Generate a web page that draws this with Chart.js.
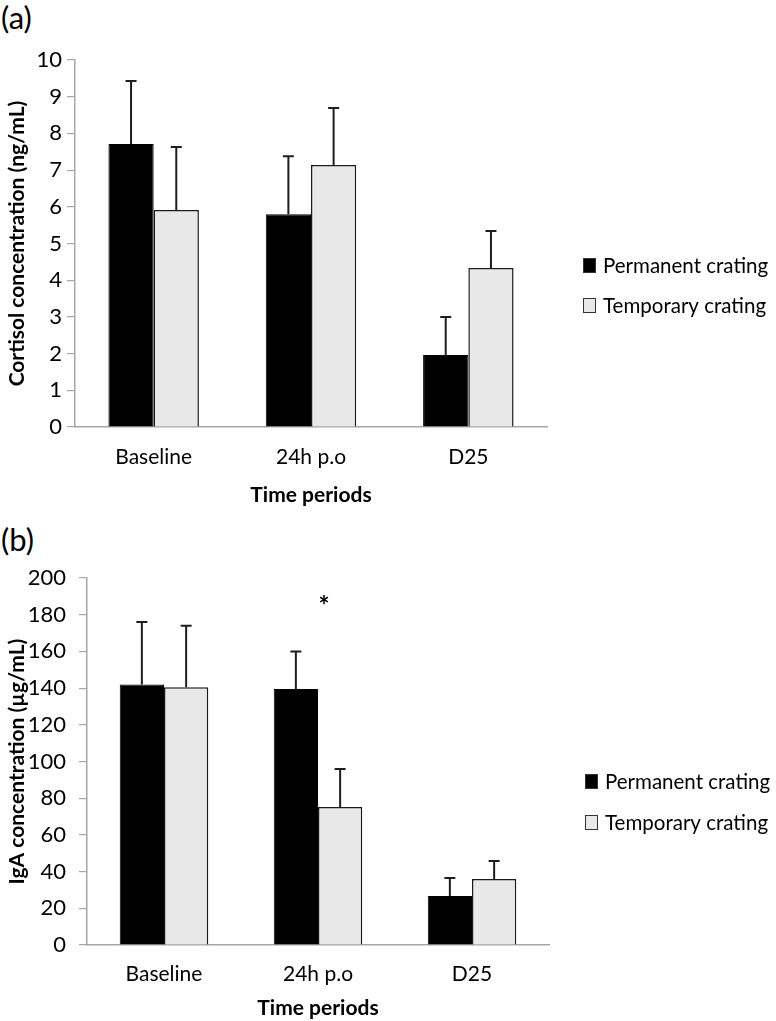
<!DOCTYPE html>
<html>
<head>
<meta charset="utf-8">
<script src="https://cdn.jsdelivr.net/npm/chart.js@4"></script>
<style>
  body { margin: 0; width: 776px; height: 1021px; background: #fff; position: relative; overflow: hidden; }
  canvas { position: absolute; left: 0; }
  #chartA { top: 0; }
  #chartB { top: 510px; }
  .panel { position: absolute; left: 1px; font: 31px Lato, sans-serif; color: #000; }
</style>
</head>
<body>
<div class="panel" style="top:-2px">(a)</div>
<div class="panel" style="top:520px">(b)</div>
<canvas id="chartA" width="776" height="510"></canvas>
<canvas id="chartB" width="776" height="511"></canvas>
<script>
// categories shared by both panels
const categories = ['Baseline', '24h p.o', 'D25'];
const seriesNames = ['Permanent crating', 'Temporary crating'];

// (a) cortisol, ng/mL
const cortisolPermanent = [7.71, 5.80, 1.96];
const cortisolPermanentErr = [1.72, 1.58, 1.04];
const cortisolTemporary = [5.91, 7.14, 4.33];
const cortisolTemporaryErr = [1.72, 1.55, 1.01];

// (b) IgA, µg/mL
const igaPermanent = [142, 139.5, 26.7];
const igaPermanentErr = [34, 20.5, 9.8];
const igaTemporary = [140.5, 75.2, 36];
const igaTemporaryErr = [33.5, 20.7, 9.8];

// significance mark in (b)
const igaStarCategory = '24h p.o';
const igaStarValue = 187;

const FONT = 'Lato, sans-serif';
const AXIS_GREY = '#a6a6a6';

// draws upper error bars from dataset.errors
const errorBars = {
    id: 'errorBars',
    afterDatasetsDraw(chart) {
        const ctx = chart.ctx;
        const y = chart.scales.y;
        ctx.save();
        ctx.strokeStyle = '#1e1e1e';
        ctx.lineWidth = 2;
        chart.data.datasets.forEach((ds, i) => {
            chart.getDatasetMeta(i).data.forEach((bar, j) => {
                const top = y.getPixelForValue(ds.data[j] + ds.errors[j]);
                const base = y.getPixelForValue(ds.data[j]);
                ctx.beginPath();
                ctx.moveTo(bar.x, base);
                ctx.lineTo(bar.x, top);
                ctx.moveTo(bar.x - 5.5, top);
                ctx.lineTo(bar.x + 5.5, top);
                ctx.stroke();
            });
        });
        ctx.restore();
    }
};

// legend to the right of the plot, as in the original figure
const sideLegend = {
    id: 'sideLegend',
    afterDraw(chart, args, opts) {
        const ctx = chart.ctx;
        const x0 = chart.chartArea.right + opts.gap;
        ctx.save();
        ctx.font = '20.5px ' + FONT;
        ctx.textBaseline = 'middle';
        chart.data.datasets.forEach((ds, i) => {
            const yc = opts.rows[i];
            ctx.fillStyle = ds.backgroundColor;
            ctx.fillRect(x0, yc - 7, 13, 15);
            ctx.strokeStyle = '#333';
            ctx.lineWidth = 1;
            ctx.strokeRect(x0 + 0.5, yc - 6.5, 12, 14);
            ctx.fillStyle = '#000';
            ctx.fillText(ds.label, x0 + 20, yc + 1);
        });
        ctx.restore();
    }
};

// asterisk above a category
const starMark = {
    id: 'starMark',
    afterDraw(chart, args, opts) {
        if (!opts.category) return;
        const ctx = chart.ctx;
        const x = chart.scales.x.getPixelForValue(categories.indexOf(opts.category));
        const yy = chart.scales.y.getPixelForValue(opts.value);
        ctx.save();
        ctx.font = 'bold 26px ' + FONT;
        ctx.fillStyle = '#000';
        ctx.textAlign = 'center';
        ctx.textBaseline = 'middle';
        ctx.fillText('*', x + 6, yy + 5);
        ctx.restore();
    }
};

function makeChart(id, p) {
    return new Chart(document.getElementById(id), {
        type: 'bar',
        data: {
            labels: categories,
            datasets: [{
                label: seriesNames[0],
                data: p.perm,
                errors: p.permErr,
                backgroundColor: '#000000',
                borderColor: '#000000',
                borderWidth: 1
            }, {
                label: seriesNames[1],
                data: p.temp,
                errors: p.tempErr,
                backgroundColor: '#e8e8e8',
                borderColor: '#1a1a1a',
                borderWidth: 1.5
            }]
        },
        options: {
            responsive: false,
            animation: false,
            devicePixelRatio: 1,
            barPercentage: 1,
            categoryPercentage: 0.575,
            layout: { padding: { top: p.top, right: p.right, left: 0, bottom: 0 } },
            plugins: {
                legend: { display: false },
                tooltip: { enabled: false },
                sideLegend: { gap: 36, rows: p.legendRows },
                starMark: p.star || {}
            },
            scales: {
                x: {
                    grid: { display: false, drawTicks: false },
                    border: { display: true, color: AXIS_GREY, width: 1.5 },
                    ticks: { color: '#000', font: { family: FONT, size: 21 }, padding: p.xTickPad },
                    title: {
                        display: true, text: 'Time periods', color: '#000',
                        font: { family: FONT, size: 21, weight: 'bold' },
                        padding: { top: 0, bottom: p.xTitlePad }
                    },
                    afterFit: (s) => { s.height = p.xHeight; }
                },
                y: {
                    min: 0, max: p.max,
                    grid: { drawOnChartArea: false, drawTicks: true, tickLength: 8, color: AXIS_GREY, lineWidth: 1.2 },
                    border: { display: true, color: AXIS_GREY, width: 1.5 },
                    ticks: { stepSize: p.step, color: '#000', font: { family: FONT, size: 22 }, padding: p.yTickPad },
                    title: {
                        display: true, text: p.yTitle, color: '#000',
                        font: { family: FONT, size: 21, weight: 'bold' },
                        padding: { top: 5, bottom: 0 }
                    },
                    afterFit: (s) => { s.width = p.yWidth; }
                }
            }
        },
        plugins: [errorBars, sideLegend, starMark]
    });
}

makeChart('chartA', {
    perm: cortisolPermanent, permErr: cortisolPermanentErr,
    temp: cortisolTemporary, tempErr: cortisolTemporaryErr,
    max: 10, step: 1, yTitle: 'Cortisol concentration (ng/mL)',
    top: 60, right: 229, yWidth: 75, xHeight: 83,
    xTickPad: 18, xTitlePad: 2, yTickPad: 5,
    legendRows: [265, 305]
});

makeChart('chartB', {
    perm: igaPermanent, permErr: igaPermanentErr,
    temp: igaTemporary, tempErr: igaTemporaryErr,
    max: 200, step: 20, yTitle: 'IgA concentration (µg/mL)',
    top: 68, right: 227, yWidth: 87, xHeight: 76,
    xTickPad: 17, xTitlePad: 0, yTickPad: 13,
    legendRows: [271, 312],
    star: { category: igaStarCategory, value: igaStarValue }
});
</script>
</body>
</html>
